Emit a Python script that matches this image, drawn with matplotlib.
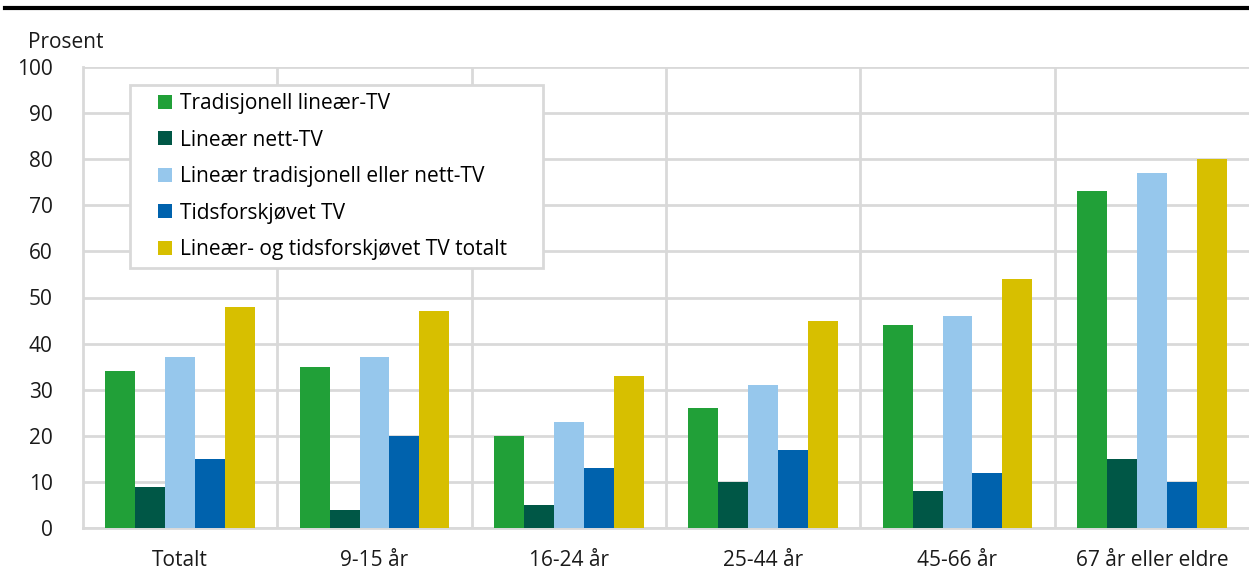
import matplotlib
matplotlib.use("Agg")
import matplotlib.pyplot as plt
import numpy as np
from matplotlib.lines import Line2D
from matplotlib.patches import Rectangle

plt.rcParams['font.family'] = ['Open Sans', 'DejaVu Sans']

categories = ["Totalt", "9-15 år", "16-24 år", "25-44 år", "45-66 år", "67 år eller eldre"]
series_names = ["Tradisjonell lineær-TV", "Lineær nett-TV", "Lineær tradisjonell eller nett-TV",
                "Tidsforskjøvet TV", "Lineær- og tidsforskjøvet TV totalt"]
tradisjonell = [34, 35, 20, 26, 44, 73]
nett = [9, 4, 5, 10, 8, 15]
tradisjonell_eller_nett = [37, 37, 23, 31, 46, 77]
tidsforskjovet = [15, 20, 13, 17, 12, 10]
totalt = [48, 47, 33, 45, 54, 80]
yticks = [0, 10, 20, 30, 40, 50, 60, 70, 80, 90, 100]
colors = ["#21a038", "#005746", "#96c7ec", "#0062ad", "#d7bf00"]

values = [tradisjonell, nett, tradisjonell_eller_nett, tidsforskjovet, totalt]
FS = 15
W, H = 1249, 576

fig = plt.figure(figsize=(W/100, H/100), dpi=100)
ax = fig.add_axes([83/W, 1-528/H, 1-83/W, (528-67)/H])

x = np.arange(len(categories))
w = 0.154
for i, (vals, c) in enumerate(zip(values, colors)):
    ax.bar(x + (i - 2) * w, vals, width=w, color=c, zorder=3)

ax.set_xlim(-0.5, len(categories) - 0.5)
ax.set_ylim(0, 100)
ax.set_yticks(yticks)
ax.set_yticklabels([str(t) for t in yticks], fontsize=FS, color="#1a1a1a")
ax.set_xticks(x)
ax.set_xticklabels(categories, fontsize=FS, color="#1a1a1a")
ax.tick_params(axis='both', length=0)
ax.tick_params(axis='x', pad=16)
ax.tick_params(axis='y', pad=22)

grid_c = "#d9d9d9"
ax.yaxis.grid(True, color=grid_c, linewidth=2, zorder=0)
for b in np.arange(0.5, len(categories) - 1, 1.0):
    ax.axvline(b, color=grid_c, linewidth=2, zorder=0)
for s in ["top", "right"]:
    ax.spines[s].set_visible(False)
for s in ["left", "bottom"]:
    ax.spines[s].set_color(grid_c)
    ax.spines[s].set_linewidth(2)
ax.set_axisbelow(True)

# legend frame box (layout only)
frame = Rectangle((130/W, 1-268/H), (543-130)/W, (268-85)/H, transform=fig.transFigure,
                  facecolor="white", edgecolor=grid_c, linewidth=2, zorder=4)
fig.add_artist(frame)

handles = [Line2D([], [], linestyle='none', marker='s', markersize=10, color=c,
                  markeredgewidth=0) for c in colors]
leg = fig.legend(handles, series_names, loc="upper left",
                 bbox_to_anchor=(130/W, 1-85/H), bbox_transform=fig.transFigure,
                 borderaxespad=0, fontsize=FS, frameon=False,
                 handlelength=2.6, handletextpad=-0.6,
                 labelspacing=0.74, borderpad=0.4)
leg.set_zorder(5)

fig.text(28/W, 1-43/H, "Prosent", fontsize=FS, va="center", ha="left", color="#1a1a1a")
fig.add_artist(Line2D([5/W, 1.0], [1-8/H, 1-8/H], color="black", linewidth=3,
                      transform=fig.transFigure))

fig.savefig("out.png", dpi=100)
